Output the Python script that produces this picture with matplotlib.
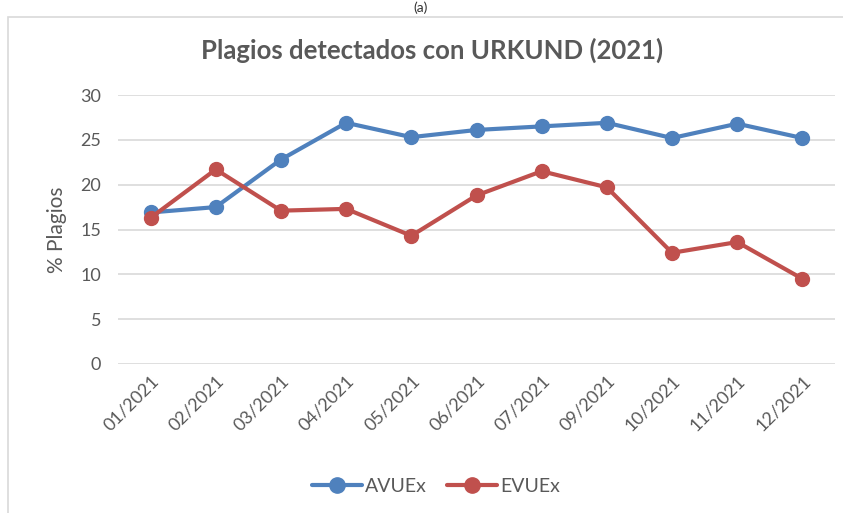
import matplotlib.pyplot as plt
from matplotlib.patches import Rectangle

# values
months = ['01/2021', '02/2021', '03/2021', '04/2021', '05/2021', '06/2021',
          '07/2021', '09/2021', '10/2021', '11/2021', '12/2021']
avuex = [16.9, 17.5, 22.8, 26.9, 25.3, 26.1, 26.5, 26.9, 25.2, 26.8, 25.2]
evuex = [16.3, 21.7, 17.1, 17.3, 14.3, 18.8, 21.5, 19.7, 12.4, 13.6, 9.5]
yticks = [0, 5, 10, 15, 20, 25, 30]

plt.rcParams['font.family'] = ['Lato', 'DejaVu Sans']
gray = '#595959'

fig = plt.figure(figsize=(8.43, 5.13), dpi=100)

# chart frame like the Excel chart area
fig.patches.append(Rectangle((8 / 843, -0.05), 2.0, 1 - 17 / 513 + 0.05,
                             transform=fig.transFigure, fill=False,
                             edgecolor='#D9D9D9', linewidth=1.2))
fig.text(421 / 843, 1 - 1 / 513, '(a)', ha='center', va='top', fontsize=10, color='#333333')

ax = fig.add_axes([118 / 843, 1 - 364 / 513, (835 - 118) / 843, (364 - 95) / 513])
x = range(len(months))
ax.plot(x, avuex, color='#4F81BD', linewidth=3, marker='o', markersize=10,
        label='AVUEx', solid_capstyle='round')
ax.plot(x, evuex, color='#C0504D', linewidth=3, marker='o', markersize=10,
        label='EVUEx', solid_capstyle='round')

ax.set_xlim(-0.5, len(months) - 0.5)
ax.set_ylim(0, 30)
ax.set_yticks(yticks)
ax.set_xticks(list(x))
ax.set_xticklabels(months, rotation=45, ha='right', rotation_mode='anchor')
ax.tick_params(length=0, labelsize=13, colors=gray)
ax.tick_params(axis='y', pad=12)
ax.tick_params(axis='x', pad=6)
ax.grid(axis='y', color='#D9D9D9', linewidth=1.2)
ax.set_axisbelow(True)
for s in ax.spines.values():
    s.set_visible(False)
ax.set_ylabel('% Plagios', fontsize=15, color=gray, labelpad=10)

fig.text(432 / 843, 1 - 50 / 513, 'Plagios detectados con URKUND (2021)', ha='center',
         va='center', fontsize=18.5, fontweight='bold', color=gray)

ax.legend(loc='center', bbox_to_anchor=(436 / 843, 1 - 486 / 513), bbox_transform=fig.transFigure,
          ncol=2, frameon=False, fontsize=14, labelcolor=gray, handlelength=2.6,
          columnspacing=1.0, handletextpad=0.15, markerscale=1.1)

fig.savefig('out.png', dpi=100)
